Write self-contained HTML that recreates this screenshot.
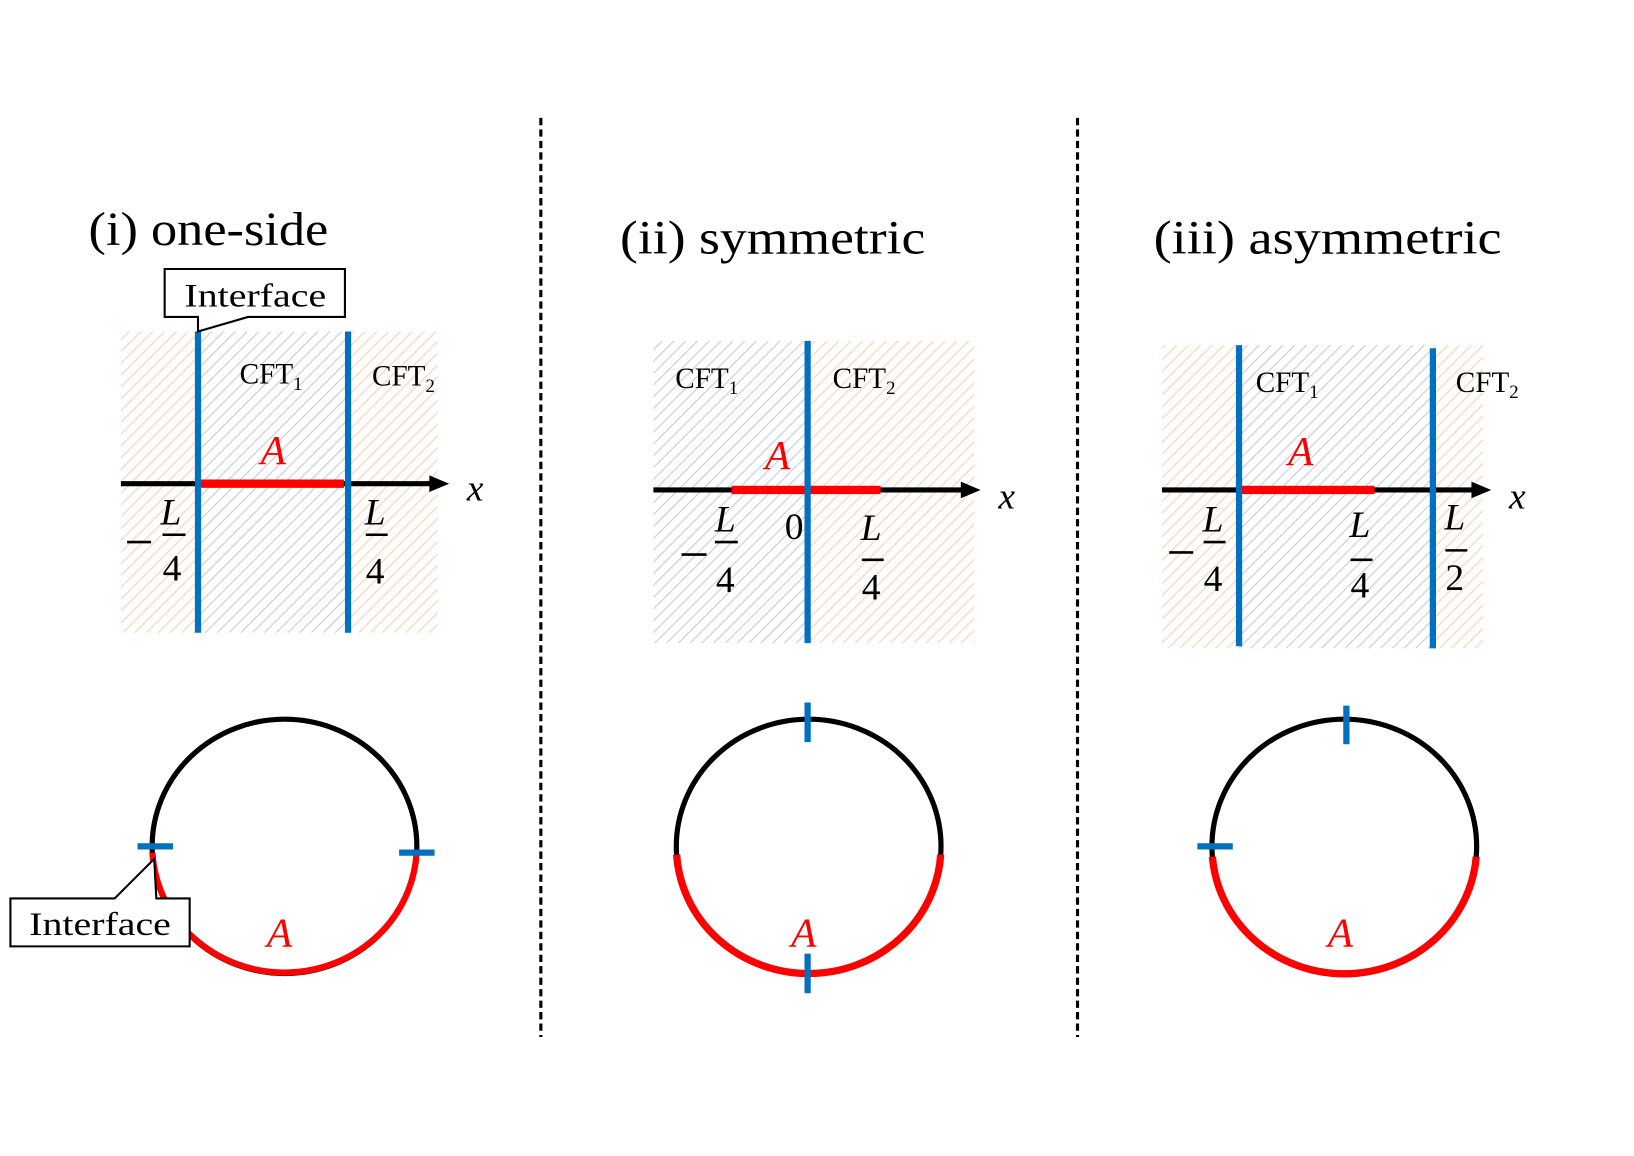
<!DOCTYPE html>
<html><head><meta charset="utf-8"><style>
html,body{margin:0;padding:0;background:#fff}
svg{display:block}
text{font-family:"Liberation Serif",serif}
.t{font-size:46px}
.c{font-size:28px}
.s{font-size:18px}
.m{font-size:36px;font-style:italic}
.n{font-size:36px}
.A{font-size:40px;font-style:italic;fill:#f00}
</style></head><body>
<svg width="1634" height="1156" viewBox="0 0 1568 1109" xmlns="http://www.w3.org/2000/svg">
<defs>
<pattern id="po" width="8" height="8" patternUnits="userSpaceOnUse" patternTransform="rotate(45)">
<rect width="8" height="8" fill="#fff"/><line x1="0" y1="0" x2="0" y2="8" stroke="#f7d3b8" stroke-width="2.2"/></pattern>
<pattern id="pb" width="8" height="8" patternUnits="userSpaceOnUse" patternTransform="rotate(45)">
<rect width="8" height="8" fill="#fff"/><line x1="0" y1="0" x2="0" y2="8" stroke="#c5cedd" stroke-width="2.2"/></pattern>
</defs>
<g stroke="#000" stroke-width="3" stroke-dasharray="7,4"><line x1="519" y1="113" x2="519" y2="995"/><line x1="1034" y1="113" x2="1034" y2="995"/></g>

<!-- panel i -->
<text class="t" x="85" y="235" textLength="230" lengthAdjust="spacingAndGlyphs">(i) one-side</text>
<rect x="116" y="318" width="74" height="289" fill="url(#po)"/>
<rect x="190" y="318" width="144" height="289" fill="url(#pb)"/>
<rect x="334" y="318" width="86" height="289" fill="url(#po)"/>
<line x1="116" y1="464" x2="420" y2="464" stroke="#000" stroke-width="5"/>
<polygon points="412,456 431,464 412,472" fill="#000"/>
<line x1="193" y1="464" x2="330" y2="464" stroke="#f00" stroke-width="8"/>
<line x1="190" y1="318" x2="190" y2="607" stroke="#0070c0" stroke-width="6"/>
<line x1="334" y1="318" x2="334" y2="607" stroke="#0070c0" stroke-width="6"/>
<text class="c" x="230" y="368">CFT<tspan class="s" dy="6">1</tspan></text>
<text class="c" x="357" y="370">CFT<tspan class="s" dy="6">2</tspan></text>
<text class="A" x="250" y="445">A</text>
<text class="m" x="448" y="480">x</text>
<line x1="122" y1="520" x2="145" y2="520" stroke="#000" stroke-width="2.5"/>
<text class="m" x="154" y="503">L</text><line x1="156" y1="513" x2="178" y2="513" stroke="#000" stroke-width="2.5"/><text class="n" x="156" y="557">4</text>
<text class="m" x="350" y="503">L</text><line x1="351" y1="513" x2="372" y2="513" stroke="#000" stroke-width="2.5"/><text class="n" x="351" y="560">4</text>
<polygon points="158,258 331,258 331,304 238,304 190,318 190,304 158,304" fill="#fff" stroke="#000" stroke-width="2"/>
<text x="177" y="294" font-size="31" textLength="136" lengthAdjust="spacingAndGlyphs">Interface</text>
<ellipse cx="273" cy="812" rx="127" ry="122" fill="none" stroke="#000" stroke-width="5"/>
<path d="M146.2,818 A127,122 0 0 0 399.8,818" fill="none" stroke="#f00" stroke-width="6"/>
<line x1="132" y1="812" x2="166" y2="812" stroke="#0070c0" stroke-width="6"/>
<line x1="383" y1="818" x2="417" y2="818" stroke="#0070c0" stroke-width="6"/>
<polygon points="10,862 110,862 148,824 150,862 182,862 182,908 10,908" fill="#fff" stroke="#000" stroke-width="2"/>
<text x="28" y="897" font-size="31" textLength="136" lengthAdjust="spacingAndGlyphs">Interface</text>
<text class="A" x="256" y="908">A</text>

<!-- panel ii -->
<text class="t" x="595" y="243" textLength="293" lengthAdjust="spacingAndGlyphs">(ii) symmetric</text>
<rect x="627" y="327" width="148" height="290" fill="url(#pb)"/>
<rect x="775" y="327" width="160" height="290" fill="url(#po)"/>
<line x1="627" y1="470" x2="930" y2="470" stroke="#000" stroke-width="5"/>
<polygon points="922,462 941,470 922,478" fill="#000"/>
<line x1="702" y1="470" x2="845" y2="470" stroke="#f00" stroke-width="8"/>
<line x1="775" y1="327" x2="775" y2="617" stroke="#0070c0" stroke-width="6"/>
<text class="c" x="648" y="372">CFT<tspan class="s" dy="6">1</tspan></text>
<text class="c" x="799" y="372">CFT<tspan class="s" dy="6">2</tspan></text>
<text class="A" x="734" y="450">A</text>
<text class="m" x="958" y="488">x</text>
<line x1="654" y1="532" x2="678" y2="532" stroke="#000" stroke-width="2.5"/>
<text class="m" x="686" y="510">L</text><line x1="686" y1="520" x2="708" y2="520" stroke="#000" stroke-width="2.5"/><text class="n" x="687" y="568">4</text>
<text class="n" x="753" y="517">0</text>
<text class="m" x="826" y="518">L</text><line x1="827" y1="537" x2="848" y2="537" stroke="#000" stroke-width="2.5"/><text class="n" x="827" y="575">4</text>
<ellipse cx="776" cy="812" rx="127" ry="122" fill="none" stroke="#000" stroke-width="5"/>
<path d="M649.27,820 A127,122 0 0 0 902.73,820" fill="none" stroke="#f00" stroke-width="7"/>
<line x1="775" y1="674" x2="775" y2="712" stroke="#0070c0" stroke-width="6"/>
<line x1="775" y1="915" x2="775" y2="953" stroke="#0070c0" stroke-width="6"/>
<text class="A" x="759" y="908">A</text>

<!-- panel iii -->
<text class="t" x="1107" y="243" textLength="334" lengthAdjust="spacingAndGlyphs">(iii) asymmetric</text>
<rect x="1115" y="331" width="74" height="291" fill="url(#po)"/>
<rect x="1189" y="331" width="186" height="291" fill="url(#pb)"/>
<rect x="1375" y="331" width="48" height="291" fill="url(#po)"/>
<line x1="1115" y1="470" x2="1420" y2="470" stroke="#000" stroke-width="5"/>
<polygon points="1412,462 1431,470 1412,478" fill="#000"/>
<line x1="1189" y1="470" x2="1319" y2="470" stroke="#f00" stroke-width="8"/>
<line x1="1189" y1="331" x2="1189" y2="620" stroke="#0070c0" stroke-width="6"/>
<line x1="1375" y1="334" x2="1375" y2="622" stroke="#0070c0" stroke-width="6"/>
<text class="c" x="1205" y="376">CFT<tspan class="s" dy="6">1</tspan></text>
<text class="c" x="1397" y="376">CFT<tspan class="s" dy="6">2</tspan></text>
<text class="A" x="1236" y="446">A</text>
<text class="m" x="1448" y="488">x</text>
<line x1="1122" y1="530" x2="1145" y2="530" stroke="#000" stroke-width="2.5"/>
<text class="m" x="1154" y="510">L</text><line x1="1155" y1="520" x2="1176" y2="520" stroke="#000" stroke-width="2.5"/><text class="n" x="1155" y="567">4</text>
<text class="m" x="1295" y="515">L</text><line x1="1296" y1="537" x2="1317" y2="537" stroke="#000" stroke-width="2.5"/><text class="n" x="1296" y="573">4</text>
<text class="m" x="1386" y="508">L</text><line x1="1387" y1="528" x2="1408" y2="528" stroke="#000" stroke-width="2.5"/><text class="n" x="1387" y="566">2</text>
<ellipse cx="1290" cy="812" rx="127" ry="122" fill="none" stroke="#000" stroke-width="5"/>
<path d="M1163.4,822 A127,122 0 0 0 1416.6,822" fill="none" stroke="#f00" stroke-width="7"/>
<line x1="1292" y1="677" x2="1292" y2="714" stroke="#0070c0" stroke-width="6"/>
<line x1="1149" y1="812" x2="1183" y2="812" stroke="#0070c0" stroke-width="6"/>
<text class="A" x="1274" y="908">A</text>
</svg>
</body></html>
